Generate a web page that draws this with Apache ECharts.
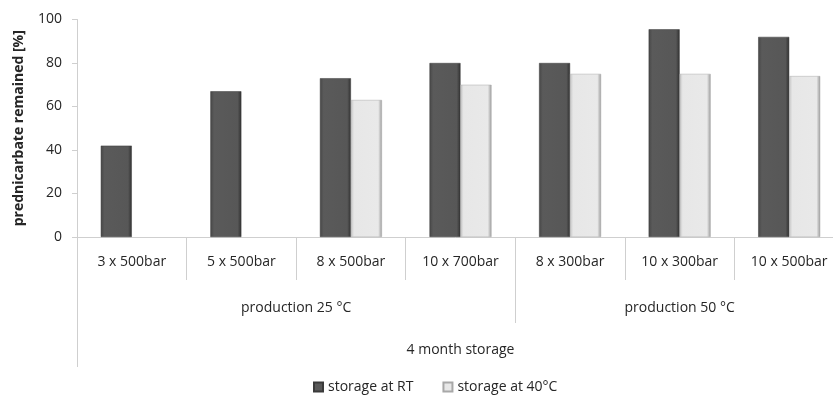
<!DOCTYPE html>
<html>
<head>
<meta charset="utf-8">
<script src="https://cdn.jsdelivr.net/npm/echarts@6/dist/echarts.min.js"></script>
<style>
  html, body { margin: 0; padding: 0; background: #fff; }
  #chart { width: 833px; height: 395px; }
</style>
</head>
<body>
<div id="chart"></div>
<script>
// Process variants (homogenisation cycles x pressure)
const categories = ['3 x 500bar', '5 x 500bar', '8 x 500bar', '10 x 700bar', '8 x 300bar', '10 x 300bar', '10 x 500bar'];
// Prednicarbate remaining after storage [%]
const storageRT = [42, 67, 73, 80, 80, 95.5, 92];
const storage40 = [null, null, 63, 70, 75, 75, 74];
// Production temperature groups and how many variants each covers
const productionGroups = ['production 25 °C', 'production 50 °C'];
const groupSizes = [4, 3];
const outerLabel = '4 month storage';
const seriesNames = ['storage at RT', 'storage at 40°C'];
const yMin = 0, yMax = 100, yStep = 20;

// positions (in category units) for the grouped label rows
const groupCenters = [];
const groupBounds = [];
let acc = 0;
groupSizes.forEach((n, i) => {
  groupCenters.push(acc + n / 2);
  acc += n;
  if (i < groupSizes.length - 1) groupBounds.push(acc);
});
const total = categories.length;

const FONT = 'Open Sans';
const TXT = '#262626';
const LINE = '#cfcfcf';

const darkFill = new echarts.graphic.LinearGradient(0, 0, 1, 0, [
  { offset: 0, color: '#474747' },
  { offset: 0.12, color: '#5a5a5a' },
  { offset: 0.88, color: '#575757' },
  { offset: 1, color: '#303030' }
]);
const lightFill = new echarts.graphic.LinearGradient(0, 0, 1, 0, [
  { offset: 0, color: '#c4c4c4' },
  { offset: 0.1, color: '#e7e7e7' },
  { offset: 0.88, color: '#e9e9e9' },
  { offset: 1, color: '#9b9b9b' }
]);

const chart = echarts.init(document.getElementById('chart'));
chart.setOption({
  animation: false,
  // the plot area runs slightly past the right edge of the canvas
  grid: { left: 77, width: 767, top: 19.5, height: 217.5, containLabel: false, outerBoundsMode: 'none' },
  legend: {
    left: 313, top: 380, padding: 0,
    itemWidth: 9, itemHeight: 9, itemGap: 29,
    icon: 'rect',
    textStyle: { fontFamily: FONT, fontSize: 14, color: TXT },
    data: seriesNames
  },
  xAxis: [
    {
      type: 'category',
      data: categories,
      boundaryGap: true,
      axisLine: { lineStyle: { color: LINE } },
      axisTick: { show: true, length: 43, interval: 0, lineStyle: { color: LINE } },
      axisLabel: { margin: 18, interval: 0, fontFamily: FONT, fontSize: 14, color: TXT }
    },
    {
      type: 'value', min: 0, max: total, position: 'bottom',
      axisLine: { show: false },
      splitLine: { show: false },
      axisTick: { show: true, customValues: groupBounds, length: 86, lineStyle: { color: LINE } },
      axisLabel: {
        customValues: groupCenters, margin: 64,
        fontFamily: FONT, fontSize: 14, color: TXT,
        formatter: v => productionGroups[groupCenters.indexOf(v)] || ''
      }
    },
    {
      type: 'value', min: 0, max: total, position: 'bottom',
      axisLine: { show: false },
      splitLine: { show: false },
      axisTick: { show: true, customValues: [0], length: 130, lineStyle: { color: LINE } },
      axisLabel: {
        customValues: [total / 2], margin: 106,
        fontFamily: FONT, fontSize: 14, color: TXT,
        formatter: () => outerLabel
      }
    }
  ],
  yAxis: {
    type: 'value', min: yMin, max: yMax, interval: yStep,
    name: 'prednicarbate remained [%]',
    nameLocation: 'middle', nameGap: 51,
    nameTextStyle: { fontFamily: FONT, fontSize: 14, fontWeight: 'bold', color: TXT },
    axisLine: { show: true, lineStyle: { color: LINE } },
    axisTick: { show: true, length: 5, lineStyle: { color: LINE } },
    splitLine: { show: false },
    axisLabel: { margin: 15, fontFamily: FONT, fontSize: 14, color: TXT }
  },
  series: [
    {
      name: seriesNames[0], type: 'bar', data: storageRT,
      barWidth: 31, barGap: '0%',
      itemStyle: { color: darkFill, borderColor: '#3a3a3a', borderWidth: 0.5 }
    },
    {
      name: seriesNames[1], type: 'bar', data: storage40,
      barWidth: 31, barGap: '0%',
      itemStyle: { color: lightFill, borderColor: '#a8a8a8', borderWidth: 0.5 }
    }
  ]
});
</script>
</body>
</html>
